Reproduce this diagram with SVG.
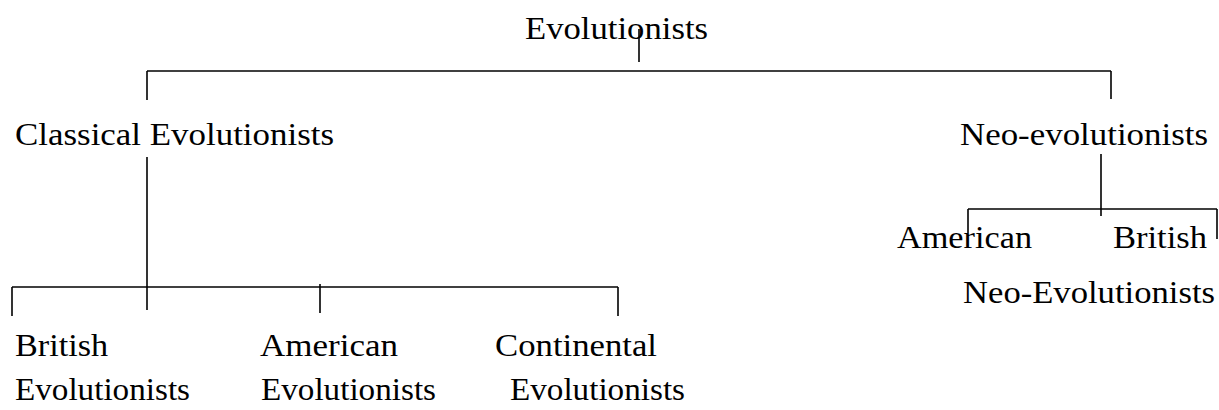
<svg xmlns="http://www.w3.org/2000/svg" width="1219" height="410" viewBox="0 0 1219 410">
<style>
text{font-family:"Liberation Serif","Times New Roman",serif;font-size:32px;fill:#000}
.c line{stroke:#000;stroke-width:1.6;fill:none}
</style>
<rect width="1219" height="410" fill="#fff"/>
<g id="connectors" class="c">
<line x1="639" y1="29" x2="639" y2="62"/>
<line x1="147" y1="71" x2="1111" y2="71"/>
<line x1="147" y1="71" x2="147" y2="100"/>
<line x1="1111" y1="71" x2="1111" y2="99"/>
<line x1="147" y1="157" x2="147" y2="310"/>
<line x1="12" y1="287" x2="618" y2="287"/>
<line x1="12" y1="287" x2="12" y2="316"/>
<line x1="320" y1="284" x2="320" y2="313"/>
<line x1="618" y1="287" x2="618" y2="316"/>
<line x1="1101" y1="154" x2="1101" y2="216"/>
<line x1="968" y1="209" x2="1217" y2="209"/>
<line x1="968" y1="209" x2="968" y2="233"/>
<line x1="1217" y1="209" x2="1217" y2="239"/>
</g>
<g id="root"><text x="525" y="39" textLength="183" lengthAdjust="spacingAndGlyphs">Evolutionists</text></g>
<g id="classical"><text x="15" y="145" textLength="319" lengthAdjust="spacingAndGlyphs">Classical Evolutionists</text></g>
<g id="neo"><text x="960" y="145" textLength="248" lengthAdjust="spacingAndGlyphs">Neo-evolutionists</text></g>
<g id="neo-american"><text x="897" y="248" textLength="135" lengthAdjust="spacingAndGlyphs">American</text></g>
<g id="neo-british"><text x="1113" y="248" textLength="94" lengthAdjust="spacingAndGlyphs">British</text><text x="963" y="303" textLength="252" lengthAdjust="spacingAndGlyphs">Neo-Evolutionists</text></g>
<g id="british"><text x="15" y="356" textLength="93" lengthAdjust="spacingAndGlyphs">British</text><text x="15" y="400" textLength="175" lengthAdjust="spacingAndGlyphs">Evolutionists</text></g>
<g id="american"><text x="260" y="356" textLength="138" lengthAdjust="spacingAndGlyphs">American</text><text x="261" y="400" textLength="175" lengthAdjust="spacingAndGlyphs">Evolutionists</text></g>
<g id="continental"><text x="495" y="356" textLength="162" lengthAdjust="spacingAndGlyphs">Continental</text><text x="510" y="400" textLength="175" lengthAdjust="spacingAndGlyphs">Evolutionists</text></g>
</svg>
